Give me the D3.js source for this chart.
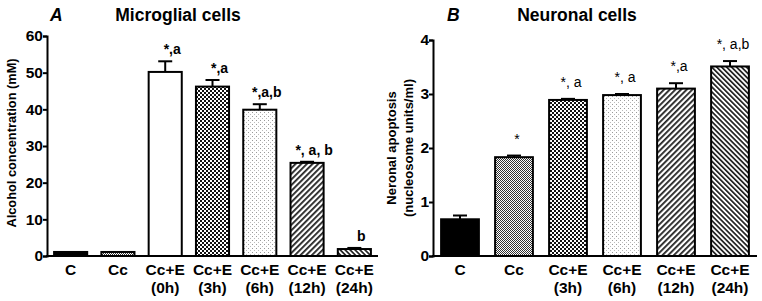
<!DOCTYPE html>
<html>
<head>
<meta charset="utf-8">
<script src="https://cdn.jsdelivr.net/npm/d3@7"></script>
<style>
  body { margin: 0; background: #fff; }
  text { font-family: "Liberation Sans", Arial, sans-serif; }
</style>
</head>
<body>
<div id="container"></div>
<script>
let w = 762;
let h = 301;

// data, panel A
let catsA = ["C", "Cc", "Cc+E|(0h)", "Cc+E|(3h)", "Cc+E|(6h)", "Cc+E|(12h)", "Cc+E|(24h)"];
let valsA = [1.1, 1.1, 50.2, 46.2, 39.9, 25.4, 1.9];
let errA = [0, 0, 2.9, 1.8, 1.5, 0.3, 0.3];
let fillsA = ["black", "fine", "white", "checker", "dots", "hatchR", "hatchL"];
let notesA = ["", "", "*,a", "*,a", "*,a,b", "*, a, b", "b"];
let ticksA = [0, 10, 20, 30, 40, 50, 60];

// data, panel B
let catsB = ["C", "Cc", "Cc+E|(3h)", "Cc+E|(6h)", "Cc+E|(12h)", "Cc+E|(24h)"];
let valsB = [0.68, 1.83, 2.89, 2.98, 3.1, 3.51];
let errB = [0.07, 0.03, 0.02, 0.02, 0.1, 0.1];
let fillsB = ["black", "fine", "checker", "dots", "hatchR", "hatchL"];
let notesB = ["", "*", "*, a", "*, a", "*,a", "*, a,b"];
let ticksB = [0, 1, 2, 3, 4];

let viz = d3.select("#container").append("svg")
    .attr("width", w)
    .attr("height", h);

// patterns
let defs = viz.append("defs");

let p = defs.append("pattern").attr("id", "fine").attr("patternUnits", "userSpaceOnUse")
    .attr("width", 2).attr("height", 2);
p.append("rect").attr("width", 2).attr("height", 2).attr("fill", "#fff");
p.append("rect").attr("width", 1).attr("height", 1).attr("fill", "#333");
p.append("rect").attr("x", 1).attr("y", 1).attr("width", 1).attr("height", 1).attr("fill", "#333");

p = defs.append("pattern").attr("id", "checker").attr("patternUnits", "userSpaceOnUse")
    .attr("width", 4).attr("height", 4);
p.append("rect").attr("width", 4).attr("height", 4).attr("fill", "#fff");
p.append("rect").attr("width", 2).attr("height", 2).attr("fill", "#111");
p.append("rect").attr("x", 2).attr("y", 2).attr("width", 2).attr("height", 2).attr("fill", "#111");

p = defs.append("pattern").attr("id", "dots").attr("patternUnits", "userSpaceOnUse")
    .attr("width", 4).attr("height", 4);
p.append("rect").attr("width", 4).attr("height", 4).attr("fill", "#fff");
p.append("rect").attr("width", 1).attr("height", 1).attr("fill", "#999");
p.append("rect").attr("x", 2).attr("y", 2).attr("width", 1).attr("height", 1).attr("fill", "#bbb");

p = defs.append("pattern").attr("id", "hatchR").attr("patternUnits", "userSpaceOnUse")
    .attr("width", 4).attr("height", 4).attr("patternTransform", "rotate(45)");
p.append("rect").attr("width", 4).attr("height", 4).attr("fill", "#fff");
p.append("rect").attr("width", 1.8).attr("height", 4).attr("fill", "#222");

p = defs.append("pattern").attr("id", "hatchL").attr("patternUnits", "userSpaceOnUse")
    .attr("width", 3.5).attr("height", 3.5).attr("patternTransform", "rotate(-45)");
p.append("rect").attr("width", 3.5).attr("height", 3.5).attr("fill", "#fff");
p.append("rect").attr("width", 1.7).attr("height", 3.5).attr("fill", "#222");

function drawPanel(opt) {
  let g = viz.append("g");
  let xScale = d3.scaleBand().domain(opt.cats).range([opt.x0, opt.x1]).paddingInner(0.3).paddingOuter(0.15);
  let yScale = d3.scaleLinear().domain([0, opt.ticks[opt.ticks.length - 1]]).range([256, opt.yTop]);

  // error bars
  opt.vals.forEach(function(v, i) {
    if (opt.err[i] <= 0) return;
    let cx = xScale(opt.cats[i]) + xScale.bandwidth() / 2;
    g.append("line").attr("x1", cx).attr("x2", cx)
      .attr("y1", yScale(v)).attr("y2", yScale(v + opt.err[i]))
      .attr("stroke", "black").attr("stroke-width", 2);
    g.append("line").attr("x1", cx - 7).attr("x2", cx + 7)
      .attr("y1", yScale(v + opt.err[i])).attr("y2", yScale(v + opt.err[i]))
      .attr("stroke", "black").attr("stroke-width", 2);
  });

  g.selectAll(".bar").data(opt.vals).enter()
    .append("rect")
    .attr("x", function(d, i) { return xScale(opt.cats[i]); })
    .attr("y", function(d) { return yScale(d); })
    .attr("width", xScale.bandwidth())
    .attr("height", function(d) { return 256 - yScale(d); })
    .attr("fill", function(d, i) {
      let f = opt.fills[i];
      if (f == "black" || f == "white") return f;
      return "url(#" + f + ")";
    })
    .attr("stroke", "black")
    .attr("stroke-width", 2);

  // notes above bars
  g.selectAll(".note").data(opt.vals).enter()
    .append("text")
    .attr("x", function(d, i) { return xScale(opt.cats[i]) + xScale.bandwidth() / 2 + opt.noteDx; })
    .attr("y", function(d, i) { return yScale(d + opt.err[i]) - opt.noteGap; })
    .attr("text-anchor", "middle")
    .attr("font-size", 14)
    .attr("font-weight", opt.noteWeight)
    .text(function(d, i) { return opt.notes[i]; });

  // y axis
  let yAxis = d3.axisLeft(yScale).tickValues(opt.ticks).tickSize(4).tickFormat(d3.format("d"));
  let ya = g.append("g").attr("transform", "translate(" + opt.x0 + ",0)").call(yAxis);
  ya.select(".domain").attr("stroke-width", 2);
  ya.selectAll(".tick line").attr("stroke-width", 2);
  ya.selectAll(".tick text").attr("font-size", 15.5).attr("font-weight", "bold")
    .attr("font-family", "Liberation Sans, Arial, sans-serif").attr("fill", "black").attr("x", -4);

  // x axis
  g.append("line").attr("x1", opt.x0 - 1).attr("x2", opt.x1).attr("y1", 256).attr("y2", 256)
    .attr("stroke", "black").attr("stroke-width", 2);
  opt.cats.forEach(function(c) {
    let parts = c.split("|");
    let t = g.append("text")
      .attr("x", xScale(c) + xScale.bandwidth() / 2)
      .attr("y", 275)
      .attr("text-anchor", "middle")
      .attr("font-size", 15.5)
      .attr("font-weight", "bold");
    parts.forEach(function(s, k) {
      t.append("tspan").attr("x", xScale(c) + xScale.bandwidth() / 2).attr("dy", k == 0 ? 0 : 18).text(s);
    });
  });

  // y label
  opt.ylabel.forEach(function(s, k) {
    g.append("text")
      .attr("transform", "translate(" + (opt.ylabX + k * 17) + "," + opt.ylabY + ") rotate(-90)")
      .attr("text-anchor", "middle")
      .attr("font-size", opt.ylabSize)
      .attr("font-weight", "bold")
      .text(s);
  });

  // titles
  g.append("text").attr("x", opt.letterX).attr("y", 21)
    .attr("font-size", 17.5).attr("font-weight", "bold").attr("font-style", "italic").text(opt.letter);
  g.append("text").attr("x", opt.titleX).attr("y", 21).attr("text-anchor", "middle")
    .attr("font-size", 17.5).attr("font-weight", "bold").text(opt.title);
}

drawPanel({
  cats: catsA, vals: valsA, err: errA, fills: fillsA, notes: notesA, ticks: ticksA,
  x0: 47, x1: 378, yTop: 36, noteGap: 7, noteWeight: "bold", noteDx: 7,
  ylabel: ["Alcohol concentration (mM)"], ylabX: 16, ylabY: 143, ylabSize: 12.8,
  letter: "A", letterX: 50, title: "Microglial cells", titleX: 178
});

drawPanel({
  cats: catsB, vals: valsB, err: errB, fills: fillsB, notes: notesB, ticks: ticksB,
  x0: 433, x1: 757, yTop: 40, noteGap: 12, noteWeight: "normal", noteDx: 3,
  ylabel: ["Neronal apoptosis", "(nucleosome units/ml)"], ylabX: 396, ylabY: 148, ylabSize: 13,
  letter: "B", letterX: 447, title: "Neuronal cells", titleX: 577
});
</script>
</body>
</html>
